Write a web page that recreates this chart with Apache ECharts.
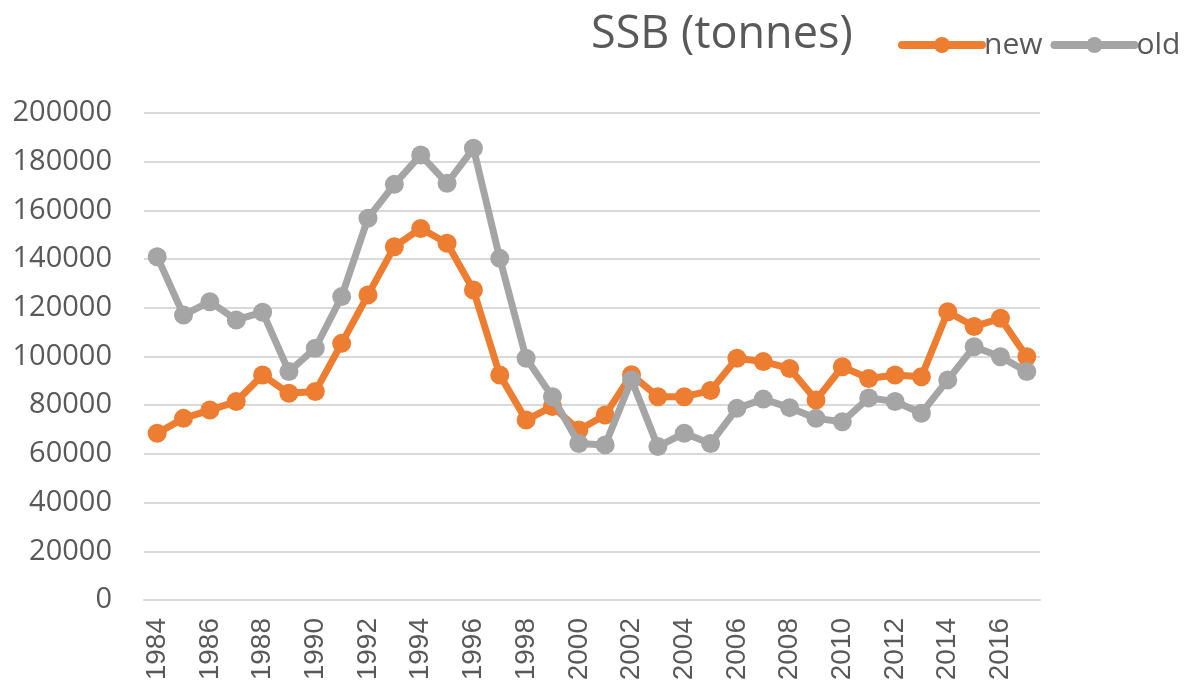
<!DOCTYPE html>
<html>
<head>
<meta charset="utf-8">
<style>
  html, body { margin: 0; padding: 0; background: #fff; }
  #chart { width: 1191px; height: 690px; }
</style>
<script src="https://cdn.jsdelivr.net/npm/echarts@6/dist/echarts.min.js"></script>
</head>
<body>
<div id="chart"></div>
<script>
// years on the x axis
var years = [];
for (var y = 1984; y <= 2017; y++) years.push(String(y));

// SSB estimates (tonnes)
var newSSB = [68500, 74600, 78000, 81500, 92400, 84900, 85600, 105400, 125300, 145100,
  152600, 146500, 127300, 92400, 73900, 79500, 69800, 76000, 92500, 83500,
  83500, 86000, 99300, 97900, 95100, 82100, 95800, 91000, 92400, 91700,
  118400, 112300, 115700, 99900];
var oldSSB = [141000, 117000, 122500, 115000, 118200, 93800, 103400, 124600, 156800, 170700,
  182800, 171100, 185500, 140300, 99300, 83500, 64300, 63700, 90400, 63000,
  68500, 64300, 78700, 82500, 79000, 74600, 73200, 83000, 81500, 76700,
  90400, 104000, 99900, 93800];

var chart = echarts.init(document.getElementById('chart'));
chart.setOption({
  animation: false,
  title: {
    text: 'SSB (tonnes)',
    left: 586,
    top: 8,
    textStyle: { fontFamily: 'Open Sans', fontSize: 45, fontWeight: 'normal', color: '#595959' }
  },
  legend: {
    left: 893,
    top: 25,
    itemWidth: 80,
    itemHeight: 20,
    itemGap: 8,
    lineStyle: { width: 8, cap: 'round' },
    textStyle: { fontFamily: 'Open Sans', fontSize: 30, color: '#595959', padding: [0, 0, 0, -3] },
    data: ['new', 'old']
  },
  grid: { left: 144, right: 151, top: 113, bottom: 90 },
  xAxis: {
    type: 'category',
    data: years,
    boundaryGap: true,
    axisLine: { lineStyle: { color: '#d9d9d9', width: 2 } },
    axisTick: { show: false },
    axisLabel: {
      rotate: 90,
      interval: 1,
      margin: 18,
      fontFamily: 'Liberation Sans',
      fontSize: 28,
      color: '#595959'
    }
  },
  yAxis: {
    type: 'value',
    min: 0,
    max: 200000,
    interval: 20000,
    axisLine: { show: false },
    axisTick: { show: false },
    splitLine: { lineStyle: { color: '#d9d9d9', width: 2 } },
    axisLabel: {
      margin: 32,
      fontFamily: 'Open Sans',
      fontSize: 29,
      color: '#595959',
      formatter: function (v) { return String(v); }
    }
  },
  series: [
    {
      name: 'new',
      type: 'line',
      data: newSSB,
      symbol: 'circle',
      symbolSize: 19,
      showAllSymbol: true,
      lineStyle: { width: 7, color: '#ed7d31' },
      itemStyle: { color: '#ed7d31' },
      z: 3
    },
    {
      name: 'old',
      type: 'line',
      data: oldSSB,
      symbol: 'circle',
      symbolSize: 19,
      showAllSymbol: true,
      lineStyle: { width: 7, color: '#a5a5a5' },
      itemStyle: { color: '#a5a5a5' },
      z: 4
    }
  ]
});
</script>
</body>
</html>
